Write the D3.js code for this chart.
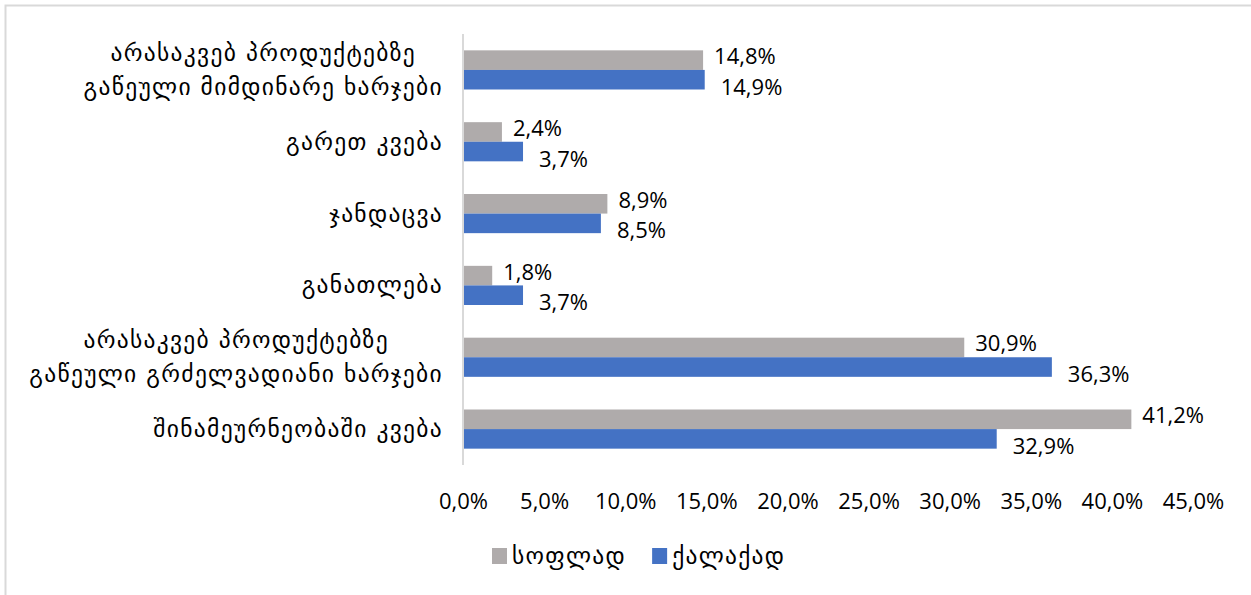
<!DOCTYPE html>
<html>
<head>
<meta charset="utf-8">
<script src="https://cdn.jsdelivr.net/npm/d3@7"></script>
<style>
  html, body { margin: 0; padding: 0; background: #fff; }
  svg { display: block; }
</style>
</head>
<body>
<svg id="chart" width="1251" height="595"></svg>
<script>
// ---- data ----
const categories = [
  ["არასაკვებ პროდუქტებზე", "გაწეული მიმდინარე ხარჯები"],
  ["გარეთ კვება"],
  ["ჯანდაცვა"],
  ["განათლება "],
  ["არასაკვებ პროდუქტებზე", "გაწეული გრძელვადიანი ხარჯები"],
  ["შინამეურნეობაში კვება"]
];
const seriesNames = ["სოფლად", "ქალაქად"];
const rural = [14.8, 2.4, 8.9, 1.8, 30.9, 41.2];
const urban = [14.9, 3.7, 8.5, 3.7, 36.3, 32.9];
const xTicks = [0, 5, 10, 15, 20, 25, 30, 35, 40, 45];

// ---- layout ----
const W = 1251, H = 595;
const plot = { left: 463, right: 1193, top: 34, bottom: 465 };
const colors = ["#AFABAB", "#4472C4"];
const numFont = "'Open Sans', 'Noto Sans', sans-serif";
const geoFont = "'DejaVu Sans', sans-serif";
const geoSize = 23.5, geoSpacing = 1.3;
const numSize = 22;
const fmt = v => v.toFixed(1).replace(".", ",") + "%";

const svg = d3.select("#chart");

// outer border
svg.append("rect")
  .attr("x", 5.5).attr("y", 5.5)
  .attr("width", W + 20).attr("height", H + 20)
  .attr("fill", "none").attr("stroke", "#D9D9D9").attr("stroke-width", 2);

const x = d3.scaleLinear().domain([0, 45]).range([plot.left, plot.right]);
const y = d3.scaleBand().domain(d3.range(categories.length))
  .range([plot.top, plot.bottom]).paddingInner(0.455).paddingOuter(0.2275);
const sub = d3.scaleBand().domain([0, 1]).range([0, y.bandwidth()]);

const rows = categories.map((c, i) => ({ i, vals: [rural[i], urban[i]] }));

// bars
const g = svg.append("g");
rows.forEach(r => {
  r.vals.forEach((v, s) => {
    g.append("rect")
      .attr("x", x(0))
      .attr("y", y(r.i) + sub(s))
      .attr("width", x(v) - x(0))
      .attr("height", sub.bandwidth())
      .attr("fill", colors[s]);
  });
});

// axis line (vertical category axis)
svg.append("line")
  .attr("x1", x(0)).attr("x2", x(0))
  .attr("y1", plot.top).attr("y2", plot.bottom)
  .attr("stroke", "#D9D9D9").attr("stroke-width", 2);

// value labels
rows.forEach(r => {
  r.vals.forEach((v, s) => {
    const cy = y(r.i) + sub(s) + sub.bandwidth() / 2;
    svg.append("text")
      .attr("x", x(v) + (s === 0 ? 11 : 16))
      .attr("y", cy + (s === 0 ? -5 : 6))
      .attr("dominant-baseline", "central")
      .attr("font-family", numFont).attr("font-size", numSize)
      .attr("fill", "#000")
      .text(fmt(v));
  });
});

// x axis tick labels
const xAxis = d3.axisBottom(x).tickValues(xTicks).tickSize(0).tickFormat(d => fmt(d));
const ax = svg.append("g").attr("transform", `translate(0, 500)`).call(xAxis);
ax.select(".domain").remove();
ax.selectAll("text")
  .attr("font-family", numFont).attr("font-size", numSize).attr("fill", "#000")
  .attr("dy", null).attr("y", 0)
  .attr("dominant-baseline", "central");

// category labels
const labelRight = 443;
rows.forEach(r => {
  const lines = categories[r.i];
  const cy = y(r.i) + y.bandwidth() / 2;
  const lh = 34;
  const t = svg.append("text")
    .attr("font-family", geoFont).attr("font-size", geoSize)
    .attr("letter-spacing", geoSpacing)
    .attr("fill", "#000");
  lines.forEach((ln, k) => {
    t.append("tspan")
      .attr("y", cy + (k - (lines.length - 1) / 2) * lh)
      .attr("dominant-baseline", "central")
      .text(ln);
  });
  const tspans = t.selectAll("tspan").nodes();
  const widths = tspans.map(n => n.getComputedTextLength());
  const maxW = d3.max(widths);
  const centerX = labelRight - maxW / 2;
  tspans.forEach(n => {
    d3.select(n).attr("x", centerX).attr("text-anchor", "middle");
  });
});

// legend
const legend = svg.append("g").attr("transform", "translate(492, 556)");
let lx = 0;
seriesNames.forEach((name, s) => {
  legend.append("rect").attr("x", lx).attr("y", -8).attr("width", 15).attr("height", 16).attr("fill", colors[s]);
  const tt = legend.append("text").attr("x", lx + 20).attr("y", 0)
    .attr("dominant-baseline", "central")
    .attr("font-family", geoFont).attr("font-size", geoSize)
    .attr("letter-spacing", geoSpacing).attr("fill", "#000")
    .text(name);
  lx += 20 + tt.node().getComputedTextLength() + 26;
});
</script>
</body>
</html>
